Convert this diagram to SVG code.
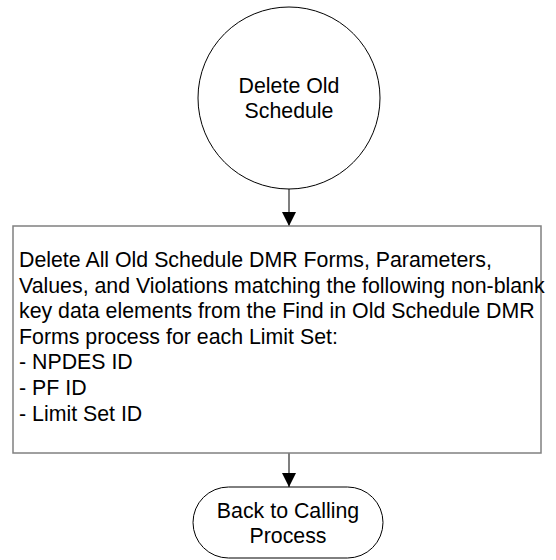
<svg xmlns="http://www.w3.org/2000/svg" width="556" height="560" viewBox="0 0 556 560">
<defs>
<style>
.shape{fill:#fff;stroke:#000;stroke-width:1}
.box{fill:#fff;stroke:#808080;stroke-width:1.5}
.t{font-family:"Liberation Sans",Arial,sans-serif;font-size:21.33px;fill:#000}
.c{text-anchor:middle}
.conn{stroke:#555;stroke-width:1.5;fill:none}
</style>
<marker id="ah" markerWidth="14" markerHeight="14" viewBox="0 0 14 14" refX="14" refY="7" orient="auto" markerUnits="userSpaceOnUse">
<path d="M0,0 L14,7 L0,14 Z" fill="#000"/>
</marker>
</defs>
<g id="connectors">
<line class="conn" x1="289" y1="189" x2="289" y2="226" marker-end="url(#ah)"/>
<line class="conn" x1="289" y1="453" x2="289" y2="487" marker-end="url(#ah)"/>
</g>
<g id="start">
<circle class="shape" cx="289" cy="98" r="91"/>
<text class="t c" x="289" y="93">Delete Old</text>
<text class="t c" x="289" y="118">Schedule</text>
</g>
<g id="process">
<rect class="box" x="13" y="226" width="528" height="227"/>
<text class="t" x="19" y="267">Delete All Old Schedule DMR Forms, Parameters,</text>
<text class="t" x="19" y="292.6">Values, and Violations matching the following non-blank</text>
<text class="t" x="19" y="318.2">key data elements from the Find in Old Schedule DMR</text>
<text class="t" x="19" y="343.8">Forms process for each Limit Set:</text>
<text class="t" x="19" y="369.4">- NPDES ID</text>
<text class="t" x="19" y="395">- PF ID</text>
<text class="t" x="19" y="420.6">- Limit Set ID</text>
</g>
<g id="end">
<rect class="shape" x="193" y="487" width="190" height="71" rx="35.5" ry="35.5"/>
<text class="t c" x="288" y="518">Back to Calling</text>
<text class="t c" x="288" y="543">Process</text>
</g>
</svg>
